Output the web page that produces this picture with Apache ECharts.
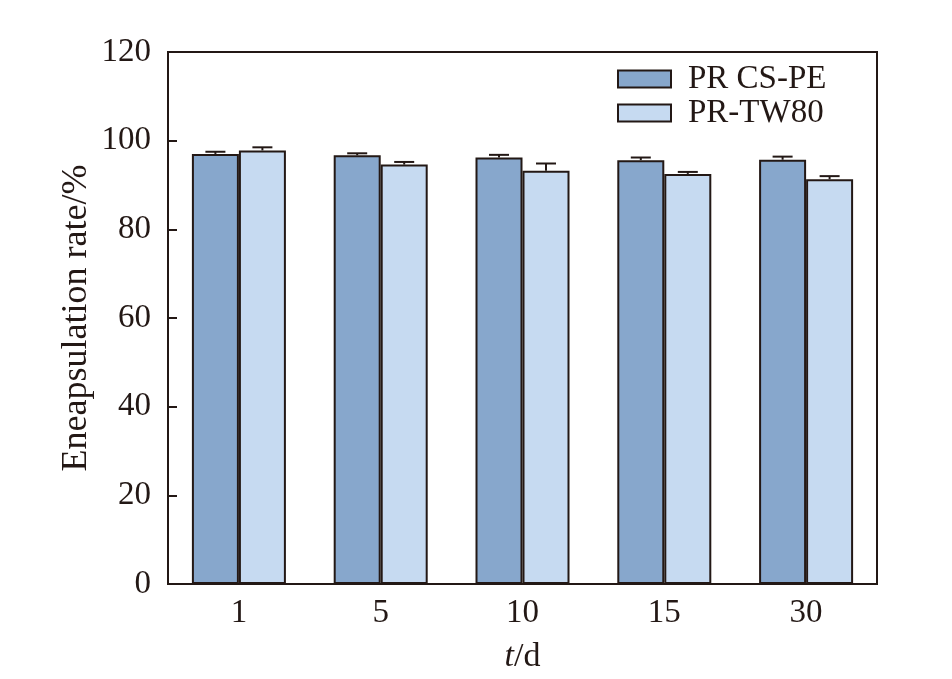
<!DOCTYPE html>
<html>
<head>
<meta charset="utf-8">
<script src="https://cdn.jsdelivr.net/npm/echarts@6/dist/echarts.min.js"></script>
<style>html,body{margin:0;padding:0;background:#fff;}#c{width:952px;height:679px;}</style>
</head>
<body>
<div id="c"></div>
<script>
var categories = ['1', '5', '10', '15', '30'];
var csValues = [97.0, 96.7, 96.2, 95.6, 95.7];
var csErrors = [0.5, 0.45, 0.6, 0.6, 0.7];
var twValues = [97.8, 94.6, 93.2, 92.5, 91.3];
var twErrors = [0.7, 0.6, 1.65, 0.45, 0.7];
var seriesNames = ['PR CS-PE', 'PR-TW80'];
var yTicks = { min: 0, max: 120, interval: 20 };

var FONT = '"Liberation Serif", "Times New Roman", serif';
var INK = '#231815';
var BAR_W = 47;

function errorSeries(values, errors, offset) {
  return {
    type: 'custom',
    silent: true,
    z: 5,
    data: values.map(function (v, i) { return [i, v, v + errors[i]]; }),
    renderItem: function (params, api) {
      var base = api.coord([api.value(0), api.value(1)]);
      var top = api.coord([api.value(0), api.value(2)]);
      var x = base[0] + offset;
      var cap = 10;
      return {
        type: 'group',
        children: [
          { type: 'line', shape: { x1: x, y1: base[1], x2: x, y2: top[1] }, style: { stroke: INK, lineWidth: 2 } },
          { type: 'line', shape: { x1: x - cap, y1: top[1], x2: x + cap, y2: top[1] }, style: { stroke: INK, lineWidth: 2 } }
        ]
      };
    }
  };
}

var chart = echarts.init(document.getElementById('c'), null, { renderer: 'canvas' });
chart.setOption({
  animation: false,
  backgroundColor: '#fff',
  textStyle: { fontFamily: FONT },
  grid: { left: 168, right: 75, top: 52, bottom: 95, show: true, borderColor: INK, borderWidth: 2, backgroundColor: 'transparent' },
  legend: {
    orient: 'vertical',
    left: 612, top: 57,
    itemWidth: 53, itemHeight: 17, itemGap: 0,
    icon: 'rect',
    textStyle: { fontFamily: FONT, fontSize: 33, lineHeight: 34, color: INK, padding: [0, 0, 0, 12] },
    data: seriesNames
  },
  xAxis: {
    type: 'category',
    data: categories,
    axisLine: { lineStyle: { color: INK, width: 2 } },
    axisTick: { show: false },
    axisLabel: { fontFamily: FONT, fontSize: 33, color: INK, margin: 13 },
    name: '{i|t}{n|/d}',
    nameLocation: 'middle',
    nameGap: 56,
    nameMoveOverlap: false,
    nameTextStyle: {
      rich: {
        i: { fontFamily: FONT, fontSize: 34, fontStyle: 'italic', color: INK },
        n: { fontFamily: FONT, fontSize: 34, color: INK }
      }
    }
  },
  yAxis: {
    type: 'value',
    min: yTicks.min, max: yTicks.max, interval: yTicks.interval,
    axisLine: { show: true, lineStyle: { color: INK, width: 2 } },
    axisTick: { show: true, inside: true, length: 9, lineStyle: { color: INK, width: 2 } },
    splitLine: { show: false },
    axisLabel: { fontFamily: FONT, fontSize: 33, color: INK, margin: 17 },
    name: 'Eneapsulation rate/%',
    nameLocation: 'middle',
    nameGap: 73,
    nameMoveOverlap: false,
    nameTextStyle: { fontFamily: FONT, fontSize: 36, color: INK }
  },
  series: [
    {
      name: seriesNames[0], type: 'bar', data: csValues,
      barWidth: BAR_W, barGap: '0%',
      itemStyle: { color: '#87a7cc', borderColor: INK, borderWidth: 2 }
    },
    {
      name: seriesNames[1], type: 'bar', data: twValues,
      barWidth: BAR_W, barGap: '0%',
      itemStyle: { color: '#c6daf1', borderColor: INK, borderWidth: 2 }
    },
    errorSeries(csValues, csErrors, -BAR_W / 2),
    errorSeries(twValues, twErrors, BAR_W / 2)
  ]
});
</script>
</body>
</html>
